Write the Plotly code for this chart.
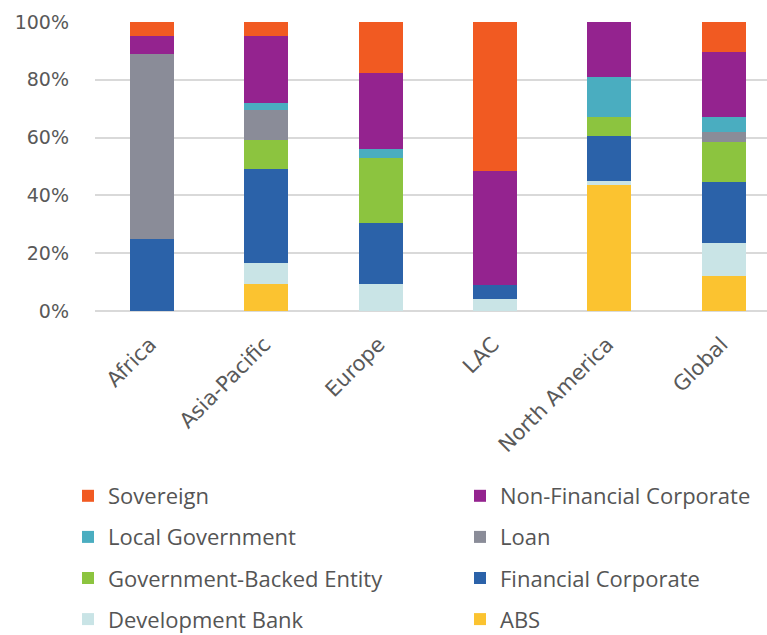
import plotly.graph_objects as go

# Regions (x categories) and issuer-type shares, in percent of each region's total
regions = ["Africa", "Asia-Pacific", "Europe", "LAC", "North America", "Global"]

abs_share = [0, 9.5, 0, 0, 43.5, 12]
development_bank = [0, 7, 9.5, 4, 1.5, 11.5]
financial_corporate = [25, 32.5, 21, 5, 15.5, 21]
government_backed = [0, 10, 22.5, 0, 6.5, 14]
loan = [64, 10.5, 0, 0, 0, 3.5]
local_government = [0, 2.5, 3, 0, 14, 5]
non_financial_corporate = [6, 23, 26.5, 39.5, 19, 22.5]
sovereign = [5, 5, 17.5, 51.5, 0, 10.5]

y_ticks = [0, 20, 40, 60, 80, 100]
y_tick_text = [f"{v}%" for v in y_ticks]

# Stacking order bottom -> top: colour, legend column, row within that column
series = [
    ("ABS", abs_share, "#FBC330", "legend2", 4),
    ("Development Bank", development_bank, "#C9E4E6", "legend", 4),
    ("Financial Corporate", financial_corporate, "#2B62A9", "legend2", 3),
    ("Government-Backed Entity", government_backed, "#8CC43F", "legend", 3),
    ("Loan", loan, "#8A8C98", "legend2", 2),
    ("Local Government", local_government, "#4AADC0", "legend", 2),
    ("Non-Financial Corporate", non_financial_corporate, "#94238F", "legend2", 1),
    ("Sovereign", sovereign, "#F15A22", "legend", 1),
]

fig = go.Figure()
for name, vals, color, leg, rank in series:
    fig.add_trace(go.Bar(
        x=regions, y=vals, name=name, marker=dict(color=color, line=dict(width=0)),
        width=0.385, legend=leg, legendgroup=name, legendrank=rank,
    ))

legend_common = dict(
    xref="container", yref="container", yanchor="top", xanchor="left",
    traceorder="grouped", tracegroupgap=9.5,
    font=dict(family="Open Sans, sans-serif", size=22, color="#555555"),
    bgcolor="rgba(0,0,0,0)", itemclick=False,
)

fig.update_layout(
    width=767, height=635,
    margin=dict(l=95, r=0, t=22, b=324, autoexpand=False),
    paper_bgcolor="white", plot_bgcolor="white",
    barmode="stack", bargap=0,
    showlegend=True,
    legend=dict(x=68 / 767, y=1 - 475 / 635, **legend_common),
    legend2=dict(x=460 / 767, y=1 - 475 / 635, **legend_common),
    xaxis=dict(
        type="category", categoryorder="array", categoryarray=regions,
        range=[-0.5, 5.379], tickangle=-45,
        showgrid=False, zeroline=False, showline=False, ticks="",
        ticklabelstandoff=16, ticklabelshift=-2,
        tickfont=dict(family="DejaVu Sans, sans-serif", size=21, color="#595959"),
    ),
    yaxis=dict(
        range=[0, 100], tickmode="array", tickvals=y_ticks, ticktext=y_tick_text,
        showgrid=True, gridcolor="#D9D9D9", gridwidth=1.5,
        zeroline=True, zerolinecolor="#D9D9D9", zerolinewidth=1.5,
        ticks="", ticklabelstandoff=25,
        tickfont=dict(family="DejaVu Sans, sans-serif", size=19, color="#595959"),
    ),
)

fig.write_html("out.html")
